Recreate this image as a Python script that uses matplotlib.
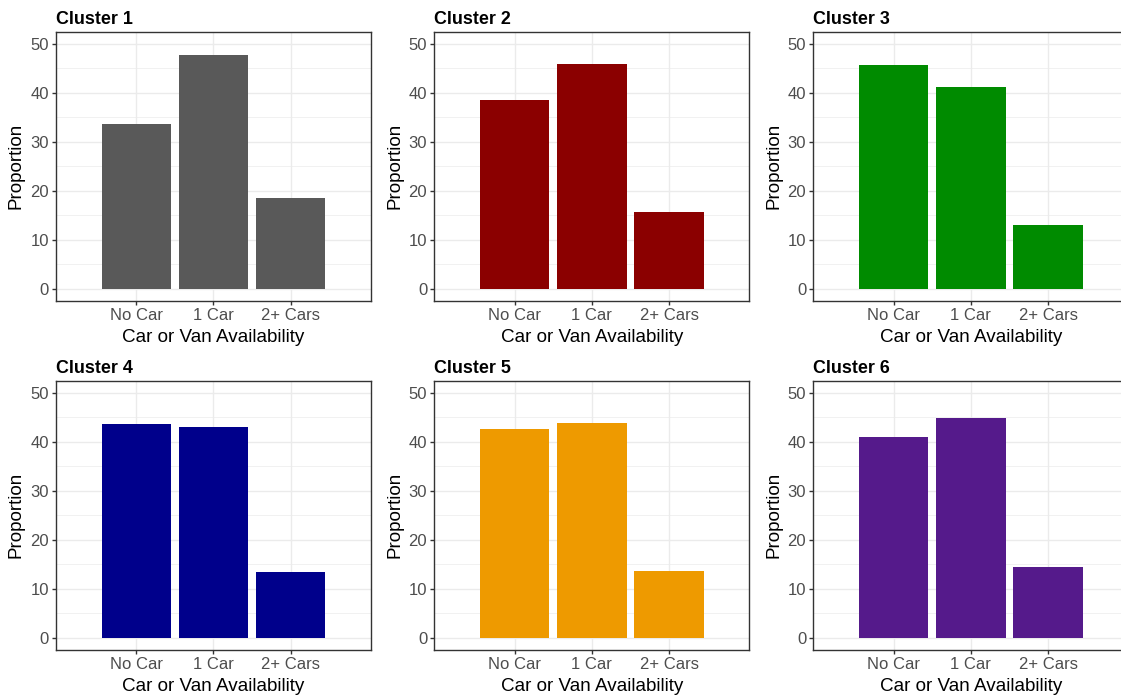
import numpy as np
import matplotlib
matplotlib.use("Agg")
import matplotlib.pyplot as plt
from matplotlib.ticker import MultipleLocator

plt.rcParams['font.family'] = ['Liberation Sans', 'DejaVu Sans']

# data
categories = ['No Car', '1 Car', '2+ Cars']
clusters = ['Cluster 1', 'Cluster 2', 'Cluster 3', 'Cluster 4', 'Cluster 5', 'Cluster 6']
cluster1 = [33.7, 47.7, 18.6]
cluster2 = [38.5, 46.0, 15.6]
cluster3 = [45.8, 41.3, 13.0]
cluster4 = [43.6, 43.1, 13.4]
cluster5 = [42.7, 43.8, 13.6]
cluster6 = [41.0, 44.8, 14.4]
values = [cluster1, cluster2, cluster3, cluster4, cluster5, cluster6]
colors = ['#595959', '#8B0000', '#008B00', '#00008B', '#EE9A00', '#551A8B']

W, H = 1121, 700
fig = plt.figure(figsize=(W / 100, H / 100), dpi=100)

# panel layout in pixels (left edges / top edges of panels)
lefts = [56, 434.3, 813.3]
tops = [31.7, 380.7]
pw, ph = 315, 269.3

x = np.arange(len(categories))

for i, (name, vals, col) in enumerate(zip(clusters, values, colors)):
    r, c = divmod(i, 3)
    ax = fig.add_axes([lefts[c] / W, (H - tops[r] - ph) / H, pw / W, ph / H])
    ax.bar(x, vals, width=0.9, color=col, zorder=3)

    ax.set_xlim(-1.04, 3.04)
    ax.set_ylim(-2.5, 52.5)
    ax.set_xticks(x)
    ax.set_xticklabels(categories)
    ax.yaxis.set_major_locator(MultipleLocator(10))
    ax.yaxis.set_minor_locator(MultipleLocator(5))

    ax.grid(True, which='major', color='#EBEBEB', linewidth=1.0, zorder=0)
    ax.grid(True, which='minor', axis='y', color='#EBEBEB', linewidth=0.5, zorder=0)
    ax.set_axisbelow(True)

    for s in ax.spines.values():
        s.set_color('#333333')
        s.set_linewidth(1.0)

    ax.tick_params(axis='both', which='major', colors='#333333', length=2.6,
                   width=1.0, labelsize=12, labelcolor='#4D4D4D', pad=2.5)
    ax.tick_params(axis='both', which='minor', length=0)

    ax.set_xlabel('Car or Van Availability', fontsize=13.6, color='black', labelpad=4)
    ax.set_ylabel('Proportion', fontsize=13.6, color='black', labelpad=4)
    ax.set_title(name, loc='left', fontsize=12.9, fontweight='bold', pad=5.5)

fig.savefig('out.png', dpi=100)
